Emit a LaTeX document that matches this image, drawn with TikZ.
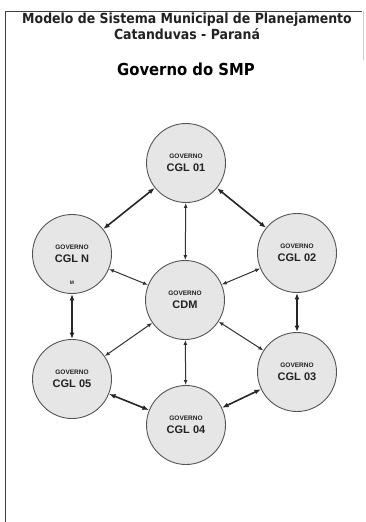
\documentclass[tikz,border=0pt]{standalone}
\usepackage{fontspec}
\setmainfont{Liberation Sans}
\newfontfamily\titlefont{DejaVu Sans Condensed}
\usetikzlibrary{arrows.meta}
\definecolor{circfill}{HTML}{E6E6E6}
\definecolor{circdraw}{HTML}{555555}
\definecolor{txt}{HTML}{222222}
\tikzset{
  gov/.style={circle, draw=circdraw, fill=circfill, line width=0.9pt, minimum size=79pt, inner sep=0pt, align=center, text=txt},
  ring/.style={{Latex[length=6.5pt,width=5pt]}-{Latex[length=6.5pt,width=5pt]}, line width=1.6pt, draw=black!85},
  spoke/.style={{Latex[length=5pt,width=4pt]}-{Latex[length=5pt,width=4pt]}, line width=1pt, draw=black!80},
  frameline/.style={line width=0.8pt, draw=black!75}
}
\newcommand{\govtext}[1]{{\fontsize{6.5}{8}\selectfont\bfseries GOVERNO}\\[1pt]{\fontsize{11}{12}\selectfont\bfseries #1}}
\begin{document}
\begin{tikzpicture}[x=1pt,y=-1pt]
\useasboundingbox (0,0) rectangle (366,522);
\fill[white] (0,0) rectangle (366,522);
% frame
\draw[frameline] (5,522) -- (5,11) -- (362,11);
\draw[line width=0.4pt, draw=black!20] (363,11) -- (363,60);
% titles
\node[font=\titlefont\bfseries\fontsize{13.9}{15}\selectfont, text=txt] (t1) at (187,19.5) {Modelo de Sistema Municipal de Planejamento};
\node[font=\titlefont\bfseries\fontsize{13.9}{15}\selectfont, text=txt] (t2) at (187,34) {Catanduvas - Paraná};
\node[font=\titlefont\bfseries\fontsize{16.5}{20}\selectfont, text=black] (t3) at (186,69) {Governo do SMP};
% circles
\node[gov] (c01) at (186,163) {\govtext{CGL 01}};
\node[gov] (cN)  at (72,254) {\govtext{CGL N}};
\node[gov] (c02) at (297,253) {\govtext{CGL 02}};
\node[gov] (cdm) at (185,300) {\govtext{CDM}};
\node[gov] (c05) at (72,379) {\govtext{CGL 05}};
\node[gov] (c03) at (297,372) {\govtext{CGL 03}};
\node[gov] (c04) at (186,425) {\govtext{CGL 04}};
\node[font=\fontsize{5}{6}\selectfont\bfseries, text=txt] (m) at (72,283) {M};
% ring arrows
\draw[ring] (c01) -- (cN);
\draw[ring] (c01) -- (c02);
\draw[ring] (cN) -- (c05);
\draw[ring] (c02) -- (c03);
\draw[ring] (c05) -- (c04);
\draw[ring] (c03) -- (c04);
% spokes
\draw[spoke] (cdm) -- (c01);
\draw[spoke] (cdm) -- (cN);
\draw[spoke] (cdm) -- (c02);
\draw[spoke] (cdm) -- (c05);
\draw[spoke] (cdm) -- (c03);
\draw[spoke] (cdm) -- (c04);
\end{tikzpicture}
\end{document}
